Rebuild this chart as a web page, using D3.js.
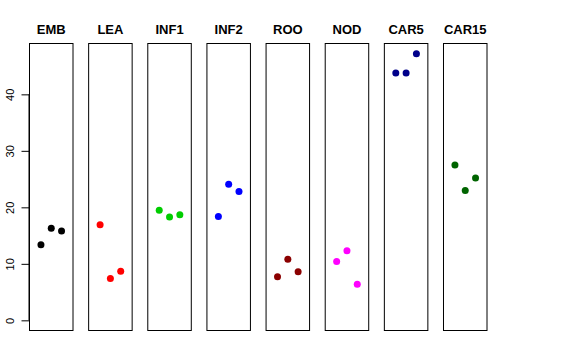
<!doctype html>
<html lang="en">
<head>
<meta charset="utf-8">
<title>Panels</title>
<script src="https://cdn.jsdelivr.net/npm/d3@7"></script>
<style>
  body { margin: 0; background: #fff; }
  svg { display: block; }
</style>
</head>
<body>
<script>
    // groups and their three replicate values
    var groups = ["EMB", "LEA", "INF1", "INF2", "ROO", "NOD", "CAR5", "CAR15"];
    var colors = ["#000000", "#ff0000", "#00cd00", "#0000ff", "#8b0000", "#ff00ff", "#00008b", "#006400"];
    var values = [
        [13.4, 16.3, 15.8],
        [16.9, 7.4, 8.7],
        [19.5, 18.3, 18.7],
        [18.4, 24.1, 22.8],
        [7.7, 10.8, 8.6],
        [10.4, 12.3, 6.4],
        [43.8, 43.8, 47.2],
        [27.5, 23.0, 25.2]
    ];
    var yTicks = [0, 10, 20, 30, 40];

    var width = 576, height = 360;
    var svg = d3.select("body").append("svg")
        .attr("width", width).attr("height", height);

    var panel = d3.scaleBand().domain(groups)
        .range([29, 487.5]).paddingInner(0.2475).paddingOuter(0);

    var ymax = d3.max(values, function(v){ return d3.max(v); });
    var ypad = ymax * 0.04;
    var y = d3.scaleLinear().domain([-ypad, ymax + ypad]).range([331, 43]);

    var x = d3.scaleLinear().domain([-0.16, 4.16]).range([0, panel.bandwidth()]);

    // y axis on first panel
    var axis = svg.append("g")
        .attr("transform", "translate(" + panel(groups[0]) + ",0)")
        .call(d3.axisLeft(y).tickValues(yTicks).tickSize(7.5).tickPadding(0));
    axis.select(".domain").attr("d", "M0," + y(0) + "V" + y(40)).attr("stroke", "#000");
    axis.selectAll(".tick line").attr("stroke", "#000");
    axis.selectAll(".tick text")
        .attr("font-family", "Liberation Sans, Arial, sans-serif")
        .attr("font-size", 11)
        .attr("fill", "#000")
        .attr("text-anchor", "middle")
        .attr("x", null).attr("dy", null)
        .attr("transform", "translate(-19,0) rotate(-90)")
        .attr("dominant-baseline", "central");

    var panels = svg.selectAll("g.panel")
        .data(groups)
        .enter().append("g")
        .attr("class", "panel")
        .attr("transform", function(d){ return "translate(" + panel(d) + ",0)"; });

    panels.append("rect")
        .attr("x", 0.5).attr("y", y.range()[1] + 0.5)
        .attr("width", panel.bandwidth() - 1)
        .attr("height", y.range()[0] - y.range()[1] - 1)
        .attr("fill", "none").attr("stroke", "#000").attr("stroke-width", 1);

    panels.append("text")
        .attr("x", panel.bandwidth() / 2)
        .attr("y", 34)
        .attr("text-anchor", "middle")
        .attr("font-family", "Liberation Sans, Arial, sans-serif")
        .attr("font-weight", "bold")
        .attr("font-size", 13)
        .text(function(d){ return d; });

    panels.each(function(g, i){
        d3.select(this).selectAll("circle")
            .data(values[i])
            .enter().append("circle")
            .attr("cx", function(d, j){ return x(j + 1); })
            .attr("cy", function(d){ return y(d); })
            .attr("r", 3.5)
            .attr("fill", colors[i]);
    });
</script>
</body>
</html>
